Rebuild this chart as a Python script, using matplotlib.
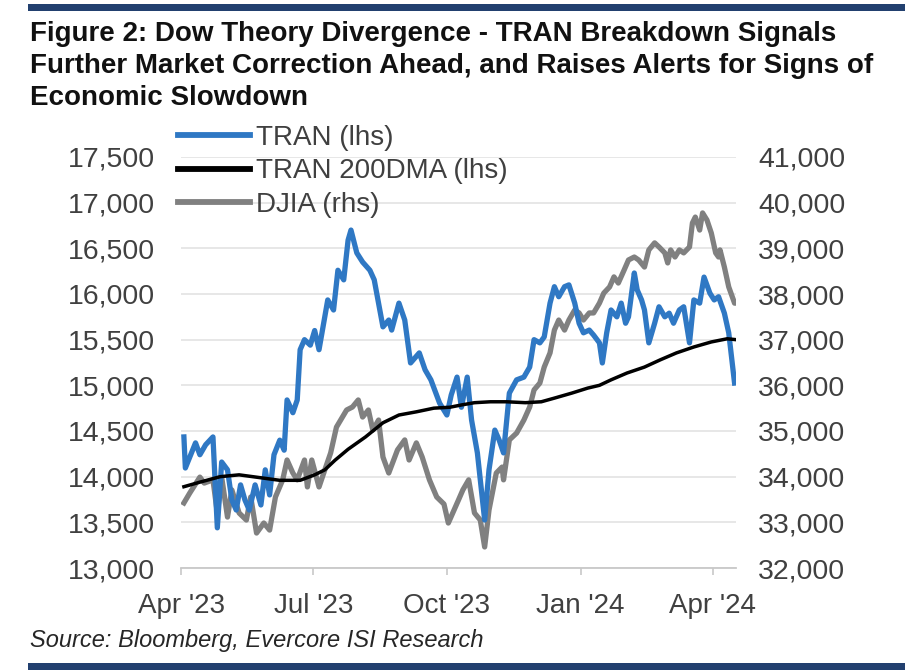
import matplotlib
matplotlib.use("Agg")
import matplotlib.pyplot as plt
from matplotlib.patches import Rectangle
from matplotlib.lines import Line2D
import pandas as pd

plt.rcParams['font.family'] = ['Liberation Sans', 'DejaVu Sans']

# ---------------- data ----------------
tran_dates = [
    "2023-04-03", "2023-04-04", "2023-04-11", "2023-04-14", "2023-04-18", "2023-04-23", "2023-04-26", "2023-04-29",
    "2023-05-03", "2023-05-06", "2023-05-09", "2023-05-12", "2023-05-15", "2023-05-18", "2023-05-22", "2023-05-26", "2023-05-29",
    "2023-06-01", "2023-06-04", "2023-06-08", "2023-06-11", "2023-06-13", "2023-06-17", "2023-06-20", "2023-06-22", "2023-06-25", "2023-06-29",
    "2023-07-02", "2023-07-05", "2023-07-11", "2023-07-15", "2023-07-18", "2023-07-22", "2023-07-25", "2023-07-27", "2023-07-31",
    "2023-08-04", "2023-08-09", "2023-08-12", "2023-08-18", "2023-08-22", "2023-08-24", "2023-08-29",
    "2023-09-02", "2023-09-06", "2023-09-12", "2023-09-16", "2023-09-20", "2023-09-26",
    "2023-10-01", "2023-10-04", "2023-10-08", "2023-10-11", "2023-10-15", "2023-10-18", "2023-10-22", "2023-10-27", "2023-10-30",
    "2023-11-03", "2023-11-06", "2023-11-09", "2023-11-13", "2023-11-18", "2023-11-23", "2023-11-27", "2023-11-30",
    "2023-12-04", "2023-12-07", "2023-12-11", "2023-12-14", "2023-12-17", "2023-12-21", "2023-12-24", "2023-12-28", "2023-12-31",
    "2024-01-03", "2024-01-07", "2024-01-10", "2024-01-14", "2024-01-16", "2024-01-19", "2024-01-22", "2024-01-26", "2024-01-29",
    "2024-02-01", "2024-02-03", "2024-02-07", "2024-02-09", "2024-02-12", "2024-02-14", "2024-02-17", "2024-02-21", "2024-02-24", "2024-02-28",
    "2024-03-02", "2024-03-05", "2024-03-09", "2024-03-12", "2024-03-16", "2024-03-19", "2024-03-23", "2024-03-26", "2024-03-30",
    "2024-04-02", "2024-04-05", "2024-04-09", "2024-04-12", "2024-04-16",
]
tran_values = [
    14435, 14095, 14370, 14240, 14350, 14435, 13440, 14160,
    14075, 13745, 13635, 13910, 13745, 13635, 13910, 13690, 14075,
    13800, 14240, 14400, 14290, 14840, 14700, 14840, 15390, 15500, 15440,
    15600, 15390, 15935, 15825, 16260, 16155, 16590, 16700, 16450,
    16350, 16260, 16155, 15640, 15715, 15605, 15900,
    15715, 15245, 15355, 15170, 15060, 14805,
    14675, 14895, 15090, 14760, 15090, 14620, 14260, 13525, 14075,
    14510, 14400, 14260, 14915, 15060, 15090, 15200, 15500,
    15465, 15530, 15900, 16080, 15970, 16080, 16100, 15900, 15680,
    15575, 15605, 15550, 15465, 15245, 15575, 15825, 15750, 15900,
    15680, 15750, 16230, 16045, 15935, 15825, 15465, 15680, 15860, 15750,
    15790, 15680, 15825, 15860, 15465, 15935, 15900, 16185, 16010,
    15935, 15970, 15790, 15575, 15025,
]

djia_dates = [
    "2023-04-03", "2023-04-07", "2023-04-14", "2023-04-17", "2023-04-23", "2023-04-26", "2023-04-29",
    "2023-05-03", "2023-05-06", "2023-05-11", "2023-05-16", "2023-05-19", "2023-05-23", "2023-05-28",
    "2023-06-01", "2023-06-05", "2023-06-10", "2023-06-13", "2023-06-17", "2023-06-20", "2023-06-25", "2023-06-27", "2023-06-30",
    "2023-07-05", "2023-07-09", "2023-07-13", "2023-07-17", "2023-07-24", "2023-07-28",
    "2023-08-01", "2023-08-04", "2023-08-08", "2023-08-11", "2023-08-15", "2023-08-18", "2023-08-22", "2023-08-28",
    "2023-09-02", "2023-09-05", "2023-09-10", "2023-09-14", "2023-09-19", "2023-09-24", "2023-09-29",
    "2023-10-02", "2023-10-09", "2023-10-12", "2023-10-16", "2023-10-20", "2023-10-24", "2023-10-27", "2023-10-30",
    "2023-11-04", "2023-11-08", "2023-11-09", "2023-11-13", "2023-11-18", "2023-11-23", "2023-11-27", "2023-11-30",
    "2023-12-04", "2023-12-07", "2023-12-11", "2023-12-14", "2023-12-17", "2023-12-21", "2023-12-24", "2023-12-28", "2023-12-31",
    "2024-01-03", "2024-01-07", "2024-01-10", "2024-01-14", "2024-01-17", "2024-01-21", "2024-01-24", "2024-01-27", "2024-01-31",
    "2024-02-03", "2024-02-07", "2024-02-10", "2024-02-14", "2024-02-17", "2024-02-21", "2024-02-24", "2024-02-28",
    "2024-03-01", "2024-03-03", "2024-03-06", "2024-03-09", "2024-03-12", "2024-03-16", "2024-03-18", "2024-03-20",
    "2024-03-23", "2024-03-25", "2024-03-28", "2024-03-31",
    "2024-04-03", "2024-04-05", "2024-04-06", "2024-04-09", "2024-04-12", "2024-04-16", "2024-04-17",
]
djia_values = [
    33425, 33640, 33990, 33860, 33930, 33205, 33990,
    33115, 33710, 33205, 33050, 33555, 32765, 32985,
    32830, 33555, 33930, 34365, 34080, 33930, 34365, 33775, 34365,
    33775, 34150, 34520, 35085, 35460, 35525,
    35680, 35305, 35460, 35020, 35240, 34430, 34080, 34585,
    34805, 34365, 34740, 34430, 33930, 33555, 33400,
    32985, 33490, 33710, 33930, 33205, 33050, 32460, 33270,
    34080, 34210, 33930, 34805, 34955, 35240, 35525, 35900,
    36050, 36400, 36710, 37210, 37430, 37210, 37430, 37650, 37585,
    37430, 37585, 37585, 37800, 38020, 38155, 38375, 38240, 38525,
    38745, 38810, 38745, 38590, 38965, 39120, 39030, 38900,
    38680, 38965, 38810, 38965, 38900, 39030, 39555, 39685,
    39400, 39775, 39620, 39335,
    38900, 38810, 38965, 38590, 38155, 37800, 37800,
]

dma_dates = [
    "2023-04-03", "2023-04-14", "2023-04-28", "2023-05-11", "2023-05-25", "2023-06-08", "2023-06-22",
    "2023-07-02", "2023-07-09", "2023-07-16", "2023-07-25", "2023-08-06", "2023-08-18", "2023-08-29",
    "2023-09-10", "2023-09-22", "2023-10-03", "2023-10-11", "2023-10-20", "2023-10-31", "2023-11-11",
    "2023-11-24", "2023-12-05", "2023-12-14", "2023-12-26", "2024-01-06", "2024-01-14", "2024-01-22",
    "2024-02-02", "2024-02-14", "2024-02-25", "2024-03-07", "2024-03-19", "2024-03-31", "2024-04-11", "2024-04-17",
]
dma_values = [
    13890, 13940, 14000, 14020, 13990, 13960, 13960,
    14020, 14075, 14180, 14300, 14435, 14590, 14675,
    14710, 14750, 14760, 14785, 14810, 14820, 14820,
    14810, 14820, 14860, 14915, 14970, 15000, 15060,
    15135, 15200, 15280, 15355, 15420, 15475, 15510, 15500,
]

xtick_dates = ["2023-04-01", "2023-07-01", "2023-10-01", "2024-01-01", "2024-04-01"]
xtick_labels = ["Apr '23", "Jul '23", "Oct '23", "Jan '24", "Apr '24"]
left_ticks = list(range(13000, 17501, 500))
right_ticks = list(range(32000, 41001, 1000))

series_labels = ["TRAN (lhs)", "TRAN 200DMA (lhs)", "DJIA (rhs)"]

title = ("Figure 2: Dow Theory Divergence - TRAN Breakdown Signals\n"
         "Further Market Correction Ahead, and Raises Alerts for Signs of\n"
         "Economic Slowdown")
source = "Source: Bloomberg, Evercore ISI Research"

# ---------------- styles ----------------
BLUE = "#2f78c4"
GREY = "#808080"
BLACK = "#000000"
TXT = "#404040"
NAVY = "#22406f"

W, H = 905, 670
fig = plt.figure(figsize=(W / 100, H / 100), dpi=100)
fig.patch.set_facecolor("white")

L, R, T, B = 181, 736, 157, 568
ax2 = fig.add_axes([L / W, 1 - B / H, (R - L) / W, (B - T) / H])
ax = ax2.twinx()
ax.set_position(ax2.get_position())

ax2.yaxis.tick_right()
ax2.yaxis.set_label_position("right")
ax.yaxis.tick_left()
ax.yaxis.set_label_position("left")

td = pd.to_datetime(tran_dates)
dd = pd.to_datetime(djia_dates)
md = pd.to_datetime(dma_dates)

ax2.plot(dd, djia_values, color=GREY, lw=3.8, solid_joinstyle="round", zorder=3)
ax.plot(td, tran_values, color=BLUE, lw=3.8, solid_joinstyle="round", zorder=3)
ax.plot(md, dma_values, color=BLACK, lw=2.5, zorder=4)

ax.set_ylim(13000, 17500)
ax2.set_ylim(32000, 41000)
ax.set_yticks(left_ticks)
ax2.set_yticks(right_ticks)
ax.set_yticklabels([f"{v:,}" for v in left_ticks])
ax2.set_yticklabels([f"{v:,}" for v in right_ticks])

xmin, xmax = pd.Timestamp("2023-04-01"), pd.Timestamp("2024-04-17")
ax.set_xlim(xmin, xmax)
ax2.set_xlim(xmin, xmax)
ax2.set_xticks(pd.to_datetime(xtick_dates))
ax2.set_xticklabels(xtick_labels)
ax.tick_params(axis="x", bottom=False, labelbottom=False, top=False, labeltop=False)

ax2.grid(axis="y", color="#e3e3e3", lw=1.2, zorder=0)
ax2.grid(axis="x", visible=False)
ax2.set_axisbelow(True)

for a in (ax, ax2):
    for s in ("top", "left", "right", "bottom"):
        a.spines[s].set_visible(False)
ax2.spines["bottom"].set_visible(True)
ax2.spines["bottom"].set_color("#c8c8c8")
ax2.spines["bottom"].set_linewidth(1.3)

ax.tick_params(axis="y", length=0, labelsize=20.5, labelcolor=TXT, pad=19)
ax2.tick_params(axis="y", length=0, labelsize=20.5, labelcolor=TXT, pad=16)
ax2.tick_params(axis="x", length=5, width=1.2, color="#c8c8c8", labelsize=20, labelcolor=TXT, pad=13)

ax.set_facecolor("none")
ax2.set_facecolor("white")

# legend with thick handles
handles = [Line2D([], [], color=BLUE, lw=4.2),
           Line2D([], [], color=BLACK, lw=4.2),
           Line2D([], [], color=GREY, lw=4.2)]
fig.legend(handles=handles, labels=series_labels, loc="upper left",
           bbox_to_anchor=(178 / W, 1 - 125 / H), frameon=False,
           fontsize=20, labelcolor=TXT, handlelength=2.6, handletextpad=0.2,
           labelspacing=0.27, borderpad=0, borderaxespad=0)

# title, source, bars
fig.text(30 / W, 1 - 21 / H, title, ha="left", va="top", fontsize=20,
         fontweight="bold", color="#111111", linespacing=1.31)
fig.text(30 / W, 1 - 641 / H, source, ha="left", va="center", fontsize=17,
         style="italic", color="#262626")
fig.add_artist(Rectangle((28 / W, 1 - 11 / H), (W - 28) / W, 7 / H,
                         transform=fig.transFigure, color=NAVY, lw=0))
fig.add_artist(Rectangle((28 / W, 0), (W - 28) / W, 7 / H,
                         transform=fig.transFigure, color=NAVY, lw=0))

fig.savefig("out.png", dpi=100)
